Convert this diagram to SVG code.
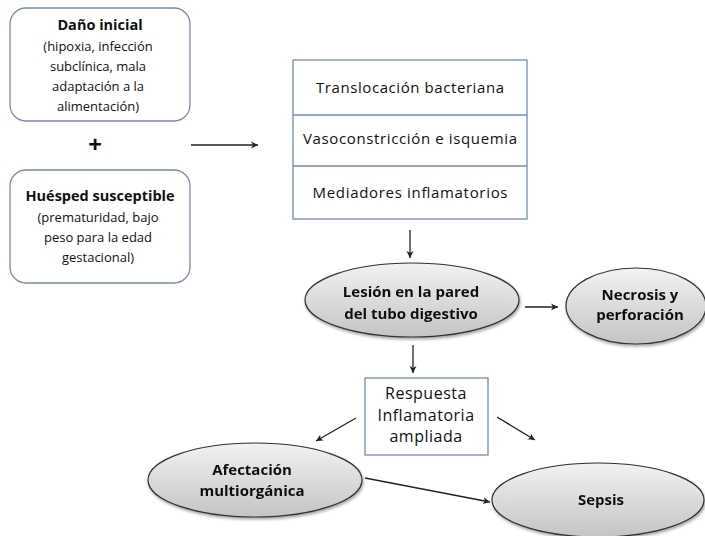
<svg xmlns="http://www.w3.org/2000/svg" width="705" height="536" viewBox="0 0 705 536">
  <style>
    text { font-family: "Open Sans", "Liberation Sans", sans-serif; fill: #111; text-anchor: middle; }
    .t { font-weight: bold; font-size: 14.5px; }
    .b { font-weight: bold; font-size: 15px; }
    .n { font-size: 13px; }
    .s { font-size: 15px; }
    .r { font-size: 16px; letter-spacing: 0.5px; }
    .rbox { fill: #fff; stroke: #7a8cab; stroke-width: 1.3; }
    .sbox { fill: #fff; stroke: #6f8bb8; stroke-width: 1.3; }
    .ell { fill: url(#grayGrad); stroke: #333; stroke-width: 1.2; }
    .con { stroke: #222; stroke-width: 1.3; fill: none; marker-end: url(#arr); }
  </style>
  <defs>
    <linearGradient id="grayGrad" x1="0" y1="0" x2="0" y2="1">
      <stop offset="0" stop-color="#f2f2f2"/>
      <stop offset="1" stop-color="#c4c4c4"/>
    </linearGradient>
    <filter id="sh" x="-10%" y="-10%" width="125%" height="130%">
      <feGaussianBlur in="SourceAlpha" stdDeviation="1.5"/>
      <feOffset dx="1" dy="2" result="o"/>
      <feComponentTransfer><feFuncA type="linear" slope="0.35"/></feComponentTransfer>
      <feMerge><feMergeNode/><feMergeNode in="SourceGraphic"/></feMerge>
    </filter>
    <marker id="arr" markerWidth="8" markerHeight="8" refX="7" refY="4" orient="auto" markerUnits="userSpaceOnUse">
      <path d="M0,0.5 L7,4 L0,7.5 L2,4 Z" fill="#222"/>
    </marker>
  </defs>

  <g id="dano-inicial">
    <rect class="rbox" x="10" y="8" width="180" height="113" rx="16"/>
    <text class="t" x="100" y="30">Daño inicial</text>
    <text class="n" x="98" y="51">(hipoxia, infección</text>
    <text class="n" x="98" y="71">subclínica, mala</text>
    <text class="n" x="98" y="91">adaptación a la</text>
    <text class="n" x="98" y="111">alimentación)</text>
  </g>

  <g id="mas">
    <text x="95" y="153" style="font-size:24px;font-weight:bold">+</text>
  </g>

  <g id="huesped">
    <rect class="rbox" x="10" y="170" width="180" height="113" rx="16"/>
    <text class="t" x="100" y="201">Huésped susceptible</text>
    <text class="n" x="98" y="222">(prematuridad, bajo</text>
    <text class="n" x="98" y="242">peso para la edad</text>
    <text class="n" x="98" y="262">gestacional)</text>
  </g>

  <g id="mecanismos">
    <rect class="sbox" x="293" y="60" width="234" height="159"/>
    <line x1="293" y1="115" x2="527" y2="115" stroke="#6f8bb8" stroke-width="1.3"/>
    <line x1="293" y1="166" x2="527" y2="166" stroke="#6f8bb8" stroke-width="1.3"/>
    <text class="s" x="410" y="93" textLength="188" lengthAdjust="spacing">Translocación bacteriana</text>
    <text class="s" x="410" y="144" textLength="214" lengthAdjust="spacing">Vasoconstricción e isquemia</text>
    <text class="s" x="410" y="198" textLength="195" lengthAdjust="spacing">Mediadores inflamatorios</text>
  </g>

  <g id="lesion" filter="url(#sh)">
    <ellipse class="ell" cx="412" cy="300" rx="107" ry="37"/>
    <text class="b" x="411" y="297">Lesión en la pared</text>
    <text class="b" x="411" y="319">del tubo digestivo</text>
  </g>

  <g id="necrosis" filter="url(#sh)">
    <ellipse class="ell" cx="636" cy="306" rx="70" ry="38"/>
    <text class="b" x="640" y="300">Necrosis y</text>
    <text class="b" x="640" y="320">perforación</text>
  </g>

  <g id="respuesta">
    <rect class="sbox" x="365" y="378" width="123" height="77"/>
    <text class="r" x="426" y="399">Respuesta</text>
    <text class="r" x="426" y="421">Inflamatoria</text>
    <text class="r" x="426" y="442">ampliada</text>
  </g>

  <g id="afectacion" filter="url(#sh)">
    <ellipse class="ell" cx="255" cy="480" rx="107" ry="37"/>
    <text class="b" x="252" y="475">Afectación</text>
    <text class="b" x="252" y="496">multiorgánica</text>
  </g>

  <g id="sepsis" filter="url(#sh)">
    <ellipse class="ell" cx="598" cy="500" rx="106" ry="37"/>
    <text class="b" x="601" y="505">Sepsis</text>
  </g>

  <g id="conectores">
    <line class="con" x1="191" y1="145" x2="258" y2="145"/>
    <line class="con" x1="410" y1="230" x2="410" y2="258"/>
    <line class="con" x1="525" y1="307" x2="558" y2="307"/>
    <line class="con" x1="413" y1="345" x2="413" y2="373"/>
    <line class="con" x1="356" y1="418" x2="316" y2="441"/>
    <line class="con" x1="497" y1="417" x2="535" y2="440"/>
    <line class="con" x1="365" y1="478" x2="490" y2="502"/>
  </g>
</svg>
